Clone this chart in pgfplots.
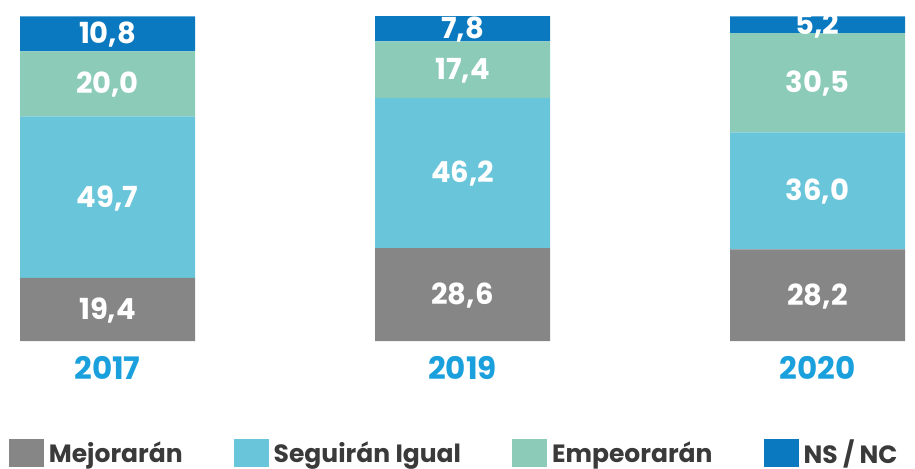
\documentclass[border=0pt]{standalone}
\usepackage{pgfplots}
\pgfplotsset{compat=1.18}
\usepackage{pgfplotstable}
\usepackage{fontspec}
\setmainfont{Poppins}
\definecolor{cgray}{HTML}{868686}
\definecolor{clblue}{HTML}{69C5D9}
\definecolor{cmint}{HTML}{8BCBB7}
\definecolor{cblue}{HTML}{0B79C0}
\definecolor{cyear}{HTML}{1AA0DC}
\definecolor{ctext}{HTML}{3A3A3A}
\pgfplotstableread{
x mej seg emp ns
0 19.4 49.7 20.0 10.8
1 28.6 46.2 17.4 7.8
2 28.2 36.0 30.5 5.2
}\datatable
\begin{document}
\begin{tikzpicture}
\path[use as bounding box] (-10pt,-63.5pt) rectangle (447.5pt,170.5pt);
\begin{axis}[
  at={(0pt,0pt)}, anchor=south west,
  scale only axis, width=442.5pt, height=162.5pt,
  ybar stacked, bar width=0.493,
  xmin=-0.2465, xmax=2.2465, ymin=0, ymax=100,
  axis line style={draw=none}, tick style={draw=none},
  ytick=\empty,
  xtick={0,1,2}, xticklabels={2017,2019,2020},
  xticklabel style={font=\fontsize{15.5}{17}\selectfont\bfseries, text=cyear, anchor=center, yshift=-13.5pt},
  lbl/.style={
    visualization depends on={\thisrow{#1}\as\rawy},
    nodes near coords={\pgfmathprintnumber[fixed,fixed zerofill,precision=1,use comma,assume math mode=true]{\rawy}},
    every node near coord/.append style={anchor=center, yshift=-0.5pt, text=white, font=\fontsize{14.5}{16}\selectfont\bfseries},
  },
  legend image code/.code={\path[#1,draw=none] (0pt,-7pt) rectangle (17.5pt,7pt);},
  legend columns=4,
  legend style={at={(-0.013,-0.346)}, anchor=west, draw=none, fill=none, inner sep=0pt,
    font=\fontsize{12.5}{14}\selectfont\bfseries, text=ctext,
    nodes={inner sep=2.5pt},
    /tikz/every even column/.append style={column sep=23pt}},
]
\addplot[fill=cgray, draw=none, lbl=mej] table[x=x,y=mej] {\datatable};
\addplot[fill=clblue, draw=none, lbl=seg] table[x=x,y=seg] {\datatable};
\addplot[fill=cmint, draw=none, lbl=emp] table[x=x,y=emp] {\datatable};
\addplot[fill=cblue, draw=none, lbl=ns] table[x=x,y=ns] {\datatable};
\legend{Mejorarán, Seguirán Igual, Empeorarán, NS / NC}
\end{axis}
\end{tikzpicture}
\end{document}
